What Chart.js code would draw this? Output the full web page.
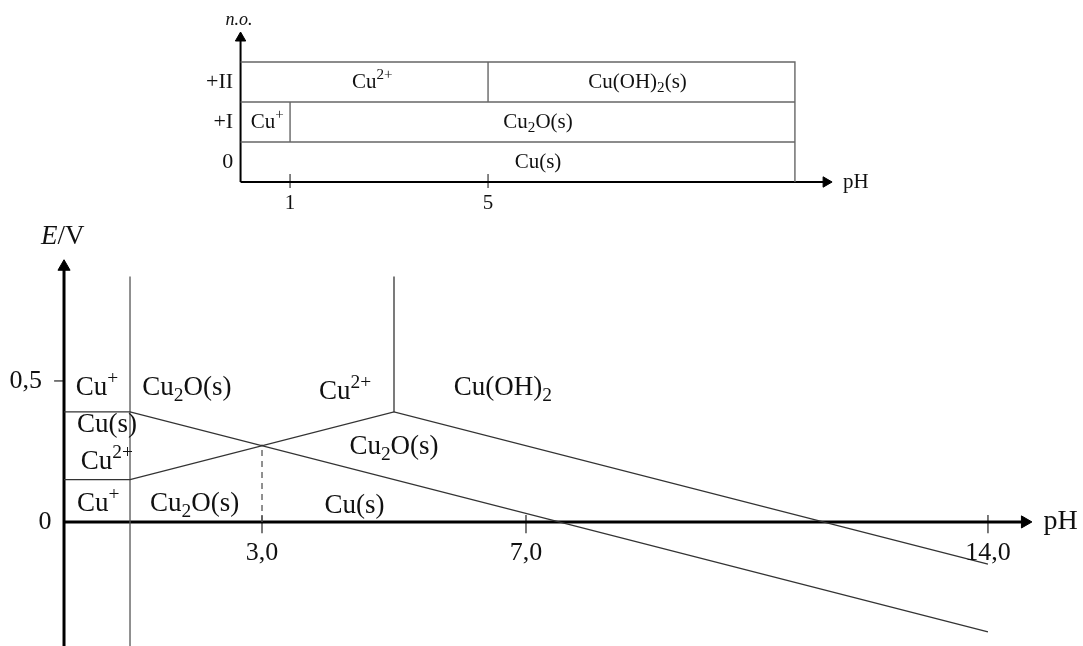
<!DOCTYPE html>
<html>
<head>
<meta charset="utf-8">
<script src="https://cdn.jsdelivr.net/npm/chart.js@4.4.1/dist/chart.umd.min.js"></script>
<style>
  html, body { margin: 0; padding: 0; background: #fff; }
  #wrap { position: relative; width: 1083px; height: 646px; }
</style>
</head>
<body>
<div id="wrap"><canvas id="chartCanvas" width="1083" height="646"></canvas></div>
<script>
// --- diagramma E/pH (in basso) ---
const cuPlusCuPH = [0, 1, 14];
const cuPlusCuE = [0.39, 0.39, -0.39];
const cu2CuPH = [0, 1, 5, 14];
const cu2CuE = [0.15, 0.15, 0.39, -0.15];
const wallPH1 = [1, 1];
const wallPH1E = [-0.44, 0.87];
const wallPH5 = [5, 5];
const wallPH5E = [0.39, 0.87];
const dashPH = [3, 3];
const dashE = [0, 0.275];
const xTickPH = [3, 7, 14];
const xTickLabels = ['3,0', '7,0', '14,0'];
const yTickE = [0.5, 0];
const yTickLabels = ['0,5', '0'];
const yTickLabelPH = [-0.58, -0.29];

const regionLabels = ['Cu^+', 'Cu_2O(s)', 'Cu^{2+}', 'Cu(OH)_2', 'Cu(s)', 'Cu^{2+}', 'Cu_2O(s)', 'Cu^+', 'Cu_2O(s)', 'Cu(s)'];
const regionPH = [0.5, 1.86, 4.26, 6.65, 0.65, 0.65, 5.0, 0.52, 1.98, 4.4];
const regionE = [0.475, 0.475, 0.46, 0.475, 0.344, 0.213, 0.266, 0.064, 0.064, 0.057];

// --- diagramma n.o./pH (in alto) ---
const boxRightPH = 11.2;
const noRows = [0, 1, 2];
const noRowLabels = ['0', '+I', '+II'];
const topSplitPH = [1, 5];      // Cu+ | Cu2O  e  Cu2+ | Cu(OH)2
const topSplitNO = [1, 2];
const topTickLabels = ['1', '5'];
const topLabels = ['Cu^{2+}', 'Cu(OH)_2(s)', 'Cu^+', 'Cu_2O(s)', 'Cu(s)'];
const topPH = [2.66, 8.02, 0.54, 6.01, 6.01];
const topNO = [2, 2, 1, 1, 0];

const SERIF = '"Liberation Serif", "DejaVu Serif", serif';

// Scompone "Cu_2O(s)" / "Cu^{2+}" / "*E*/V" in pezzi normali, pedici, apici, corsivi
function parseRich(s) {
    const parts = [];
    let buf = '', italic = false, i = 0;
    const flush = () => { if (buf) { parts.push({ t: buf, k: 0, it: italic }); buf = ''; } };
    while (i < s.length) {
        const c = s[i];
        if (c === '*') { flush(); italic = !italic; i++; }
        else if (c === '_' || c === '^') {
            flush();
            let txt;
            if (s[i + 1] === '{') { const j = s.indexOf('}', i); txt = s.slice(i + 2, j); i = j + 1; }
            else { txt = s[i + 1]; i += 2; }
            parts.push({ t: txt, k: c === '_' ? 1 : -1, it: italic });
        } else { buf += c; i++; }
    }
    flush();
    return parts;
}

function fontFor(p, size) {
    const sz = p.k === 0 ? size : size * 0.72;
    return (p.it ? 'italic ' : '') + sz + 'px ' + SERIF;
}

function drawRich(ctx, str, x, y, size, align) {
    const parts = parseRich(str);
    let total = 0;
    parts.forEach(p => { ctx.font = fontFor(p, size); p.w = ctx.measureText(p.t).width; total += p.w; });
    let cx = align === 'right' ? x - total : (align === 'left' ? x : x - total / 2);
    ctx.textAlign = 'left';
    ctx.textBaseline = 'middle';
    parts.forEach(p => {
        ctx.font = fontFor(p, size);
        const dy = p.k === 1 ? size * 0.3 : (p.k === -1 ? -size * 0.33 : 0);
        ctx.fillText(p.t, cx, y + dy);
        cx += p.w;
    });
}

const textPlugin = {
    id: 'richText',
    afterDatasetsDraw(chart) {
        const { ctx } = chart;
        const sx = chart.scales.x, sy = chart.scales.y;
        const tx = chart.scales.x2, ty = chart.scales.y2;
        ctx.save();
        ctx.fillStyle = '#111';
        // in basso
        regionLabels.forEach((t, i) => drawRich(ctx, t, sx.getPixelForValue(regionPH[i]), sy.getPixelForValue(regionE[i]), 27, 'center'));
        xTickLabels.forEach((t, i) => drawRich(ctx, t, sx.getPixelForValue(xTickPH[i]), sy.getPixelForValue(-0.11), 26, 'center'));
        yTickLabels.forEach((t, i) => drawRich(ctx, t, sx.getPixelForValue(yTickLabelPH[i]), sy.getPixelForValue(yTickE[i]), 26, 'center'));
        drawRich(ctx, '*E*/V', sx.getPixelForValue(-0.02), sy.getPixelForValue(1.01), 27, 'center');
        drawRich(ctx, 'pH', sx.getPixelForValue(15.1), sy.getPixelForValue(0), 28, 'center');
        // in alto
        topLabels.forEach((t, i) => drawRich(ctx, t, tx.getPixelForValue(topPH[i]), ty.getPixelForValue(topNO[i]), 21, 'center'));
        noRowLabels.forEach((t, i) => drawRich(ctx, t, tx.getPixelForValue(-0.15), ty.getPixelForValue(noRows[i]), 22, 'right'));
        topTickLabels.forEach((t, i) => drawRich(ctx, t, tx.getPixelForValue(topSplitPH[i]), ty.getPixelForValue(-1.03), 21, 'center'));
        drawRich(ctx, 'pH', tx.getPixelForValue(12.43), ty.getPixelForValue(-0.5), 21, 'center');
        drawRich(ctx, '*n.o.*', tx.getPixelForValue(-0.03), ty.getPixelForValue(3.55), 18, 'center');
        ctx.restore();
    }
};

const pts = (xs, ys) => xs.map((v, i) => ({ x: v, y: ys[i] }));

function line(xs, ys, opts, top) {
    return Object.assign({
        data: pts(xs, ys), showLine: true, pointRadius: 0, borderColor: '#333', borderWidth: 1.3,
        xAxisID: top ? 'x2' : 'x', yAxisID: top ? 'y2' : 'y'
    }, opts || {});
}

function arrow(xv, yv, rot, r, top) {
    return {
        data: [{ x: xv, y: yv }], showLine: false, pointStyle: 'triangle', rotation: rot,
        pointRadius: r, backgroundColor: '#000', borderColor: '#000', borderWidth: 1,
        xAxisID: top ? 'x2' : 'x', yAxisID: top ? 'y2' : 'y'
    };
}

const datasets = [];
// --- in basso ---
datasets.push(line(cuPlusCuPH, cuPlusCuE));
datasets.push(line(cu2CuPH, cu2CuE));
datasets.push(line(wallPH1, wallPH1E, { borderColor: '#555' }));
datasets.push(line(wallPH5, wallPH5E));
datasets.push(line(dashPH, dashE, { borderDash: [6, 5], borderColor: '#555' }));
datasets.push(line([0, 14.56], [0, 0], { borderColor: '#000', borderWidth: 3 }));
datasets.push(line([0, 0], [-0.45, 0.905], { borderColor: '#000', borderWidth: 3 }));
datasets.push(arrow(14.56, 0, 90, 7));
datasets.push(arrow(0, 0.905, 0, 7));
datasets.push(line([-0.15, 0], [0.5, 0.5], { borderColor: '#333' }));
xTickPH.forEach(p => datasets.push(line([p, p], [-0.04, 0.025], { borderColor: '#333' })));
// --- in alto ---
const boxStyle = { borderColor: '#666', borderWidth: 1.4 };
datasets.push(line([0, boxRightPH, boxRightPH], [2.5, 2.5, -0.5], boxStyle, true));
datasets.push(line([0, boxRightPH], [1.5, 1.5], boxStyle, true));
datasets.push(line([0, boxRightPH], [0.5, 0.5], boxStyle, true));
topSplitPH.forEach((p, i) => datasets.push(line([p, p], [topSplitNO[i] - 0.5, topSplitNO[i] + 0.5], boxStyle, true)));
datasets.push(line([0, 11.83], [-0.5, -0.5], { borderColor: '#000', borderWidth: 2 }, true));
datasets.push(line([0, 0], [-0.5, 3.1], { borderColor: '#000', borderWidth: 2 }, true));
datasets.push(arrow(11.83, -0.5, 90, 6, true));
datasets.push(arrow(0, 3.1, 0, 6, true));
topSplitPH.forEach(p => datasets.push(line([p, p], [-0.65, -0.3], { borderColor: '#444' }, true)));

new Chart(document.getElementById('chartCanvas'), {
    type: 'scatter',
    data: { datasets },
    options: {
        responsive: false,
        animation: false,
        layout: { padding: 0, autoPadding: false },
        plugins: { legend: { display: false }, tooltip: { enabled: false } },
        scales: {
            x: { type: 'linear', display: false, min: -0.97, max: 15.44 },
            y: { type: 'linear', display: false, min: -0.44, max: 1.851 },
            x2: { type: 'linear', axis: 'x', display: false, min: -4.86, max: 17.02 },
            y2: { type: 'linear', axis: 'y', display: false, min: -12.1, max: 4.05 }
        }
    },
    plugins: [textPlugin]
});
</script>
</body>
</html>
